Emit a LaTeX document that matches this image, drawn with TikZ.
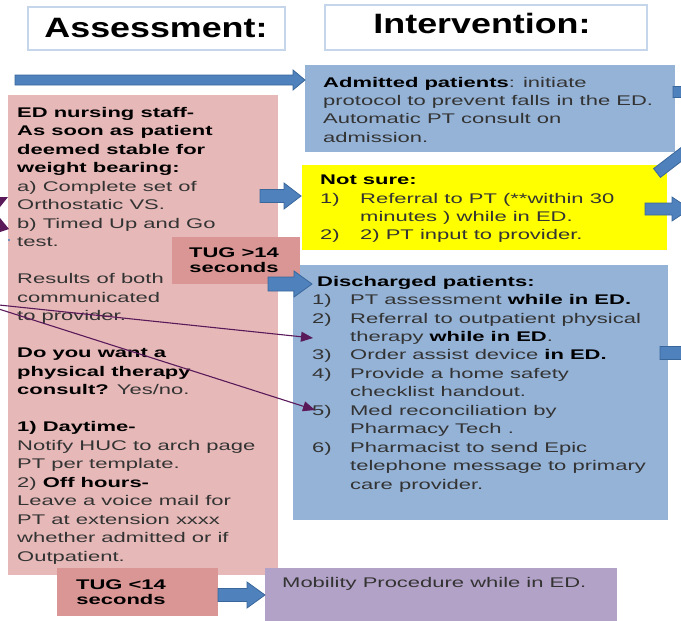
\documentclass[tikz,border=0pt]{standalone}
\usepackage{fontspec}
\setmainfont{Liberation Sans}[FakeStretch=1.57]
\newfontfamily\titlefont{Liberation Sans}[FakeStretch=1.28]
\usetikzlibrary{arrows.meta}
\definecolor{pinkbox}{HTML}{E6B9B8}
\definecolor{tugbox}{HTML}{D99694}
\definecolor{bluebox}{HTML}{95B3D7}
\definecolor{yellowbox}{HTML}{FFFF00}
\definecolor{mobbox}{HTML}{B3A2C7}
\definecolor{arrowfill}{HTML}{4F81BD}
\definecolor{arrowline}{HTML}{3A679B}
\definecolor{titleline}{HTML}{C5D5EA}
\definecolor{purpleline}{HTML}{5A1A5A}
\definecolor{bodygray}{HTML}{333333}
\newcommand{\bt}[1]{\textbf{\color{black}#1}}
% block arrow: x1, x2, y, shaft half, head half, head length
\newcommand{\harrow}[6]{%
  \filldraw[blockarrow] (#1,#3-#4) -- (#2-#6,#3-#4) -- (#2-#6,#3-#5) -- (#2,#3)
    -- (#2-#6,#3+#5) -- (#2-#6,#3+#4) -- (#1,#3+#4) -- cycle;}
\begin{document}
\begin{tikzpicture}[x=1pt,y=-1pt,
  box/.style={draw=none, inner sep=0pt, outer sep=0pt},
  titlebox/.style={draw=titleline, line width=1.4pt, fill=white, inner sep=0pt, outer sep=0pt},
  titletext/.style={inner sep=0pt, font=\titlefont\fontsize{28}{30}\selectfont\bfseries},
  bodytext/.style={inner sep=0pt, align=left, anchor=north west, text=bodygray,
    font=\fontsize{14}{18.5}\selectfont},
  tugtext/.style={inner sep=0pt, align=center, anchor=north, text=black,
    font=\fontsize{14}{15}\selectfont\bfseries},
  blockarrow/.style={fill=arrowfill, draw=arrowline, line width=0.8pt, line join=miter},
  purplearrow/.style={draw=purpleline, line width=1.1pt, -{Triangle[length=12pt,width=10pt]}},
]
\useasboundingbox (0,0) rectangle (681,621);
\clip (0,0) rectangle (681,621);

% title boxes
\node[titlebox, minimum width=257pt, minimum height=43pt] (asstitle) at (156.5,28.5) {};
\node[titletext] (asstitletext) at (156,28) {Assessment:};
\node[titlebox, minimum width=322pt, minimum height=45pt] (inttitle) at (486,27.5) {};
\node[titletext] (inttitletext) at (482,23.5) {Intervention:};

% main boxes
\node[box, fill=pinkbox, minimum width=270pt, minimum height=480pt] (assess) at (143,335) {};
\node[box, fill=bluebox, minimum width=370pt, minimum height=87pt] (admitted) at (490,108.5) {};
\node[box, fill=yellowbox, minimum width=365pt, minimum height=85pt] (notsure) at (484.5,207.5) {};
\node[box, fill=bluebox, minimum width=375pt, minimum height=255pt] (discharged) at (480.5,392.5) {};
\node[box, fill=mobbox, minimum width=352pt, minimum height=60pt] (mobility) at (441,598) {};

% texts
\node[bodytext] (assesstext) at (17,106.8) {%
\bt{ED nursing staff-}\\
\bt{As soon as patient}\\
\bt{deemed stable for}\\
\bt{weight bearing:}\\
a) Complete set of\\
Orthostatic VS.\\
b) Timed Up and Go\\
test.\\
\mbox{}\\
Results of both\\
communicated\\
to provider.\\
\mbox{}\\
\bt{Do you want a}\\
\bt{physical therapy}\\
\bt{consult?} Yes/no.\\
\mbox{}\\
\bt{1) Daytime-}\\
Notify HUC to arch page\\
PT per template.\\
2) \bt{Off hours-}\\
Leave a voice mail for\\
PT at extension xxxx\\
whether admitted or if\\
Outpatient.};

\node[bodytext, font=\fontsize{14}{18.3}\selectfont] (admittedtext) at (323,76.8) {%
\bt{Admitted patients}: initiate\\
protocol to prevent falls in the ED.\\
Automatic PT consult on\\
admission.};

\node[bodytext, font=\fontsize{14}{18.3}\selectfont] (notsuretext) at (320,175) {%
\bt{Not sure:}\\
\makebox[40pt][l]{1)}Referral to PT (**within 30\\
\hspace*{40pt}minutes ) while in ED.\\
\makebox[40pt][l]{2)}2) PT input to provider.};

\node[bodytext, font=\fontsize{14}{18.45}\selectfont] (dischargedtext) at (312,275.8) {%
\hspace*{5pt}\bt{Discharged patients:}\\
\makebox[38pt][l]{1)}PT assessment \bt{while in ED.}\\
\makebox[38pt][l]{2)}Referral to outpatient physical\\
\hspace*{38pt}therapy \bt{while in ED}.\\
\makebox[38pt][l]{3)}Order assist device \bt{in ED.}\\
\makebox[38pt][l]{4)}Provide a home safety\\
\hspace*{38pt}checklist handout.\\
\makebox[38pt][l]{5)}Med reconciliation by\\
\hspace*{38pt}Pharmacy Tech .\\
\makebox[38pt][l]{6)}Pharmacist to send Epic\\
\hspace*{38pt}telephone message to primary\\
\hspace*{38pt}care provider.};

\node[bodytext, anchor=base west] (mobilitytext) at (282,587) {Mobility Procedure while in ED.};

% TUG boxes
\node[box, fill=tugbox, minimum width=128pt, minimum height=47pt] (tughi) at (236,260.5) {};
\node[tugtext] (tughitext) at (234,248) {TUG >14\\seconds};
\node[box, fill=tugbox, minimum width=161pt, minimum height=48pt] (tuglo) at (137.5,592) {};
\node[tugtext] (tuglotext) at (121,580) {TUG <14\\seconds};

% block arrows
\harrow{15}{305}{80}{5}{10}{12}
\harrow{260}{301}{196}{6.5}{13}{17}
\harrow{268}{312}{284}{7}{13}{18}
\harrow{218}{265}{595}{6.5}{13}{18}
\harrow{673}{720}{92}{5.5}{11}{15}
\harrow{645}{690}{209}{6}{12}{18}
\harrow{660}{720}{353}{6.5}{12}{18}
\filldraw[blockarrow] (653.6,168.6) -- (696.6,135.6) -- (703.4,144.4) -- (660.4,177.4) -- cycle;

% purple connectors
\coordinate (pstart) at (-20,303);
\coordinate (pend1) at (313,338);
\coordinate (pend2) at (315,410);
\draw[purplearrow] (pstart) -- (pend1);
\draw[purplearrow] (pstart) -- (pend2);
\fill[purpleline] (0,197) -- (8,197) -- (0,207) -- cycle;
\fill[purpleline] (0,218) -- (9,229) -- (0,232) -- cycle;
\fill[arrowfill] (9,240) circle (1.2);
\end{tikzpicture}
\end{document}
